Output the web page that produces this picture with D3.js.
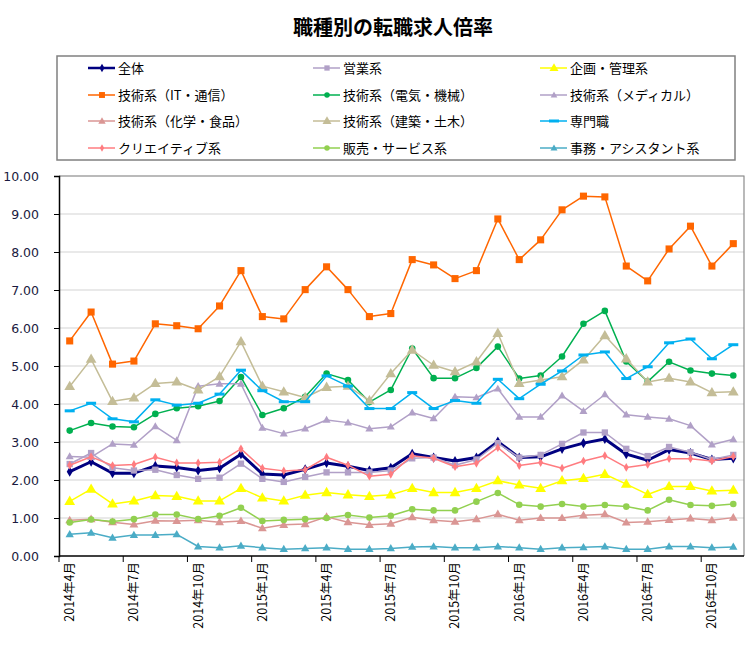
<!DOCTYPE html>
<html><head><meta charset="utf-8">
<script src="https://cdn.jsdelivr.net/npm/d3@7/dist/d3.min.js"></script>
<style>
html,body{margin:0;padding:0;background:#fff;}
svg{display:block;font-family:"DejaVu Sans",Verdana,sans-serif;}
</style></head><body>
<svg id="c" width="752" height="651"></svg>
<script>
const title = "職種別の転職求人倍率";
const months = ["2014年4月","2014年5月","2014年6月","2014年7月","2014年8月","2014年9月","2014年10月","2014年11月","2014年12月",
"2015年1月","2015年2月","2015年3月","2015年4月","2015年5月","2015年6月","2015年7月","2015年8月","2015年9月","2015年10月","2015年11月","2015年12月",
"2016年1月","2016年2月","2016年3月","2016年4月","2016年5月","2016年6月","2016年7月","2016年8月","2016年9月","2016年10月","2016年11月"];
const yTicks = [0,1,2,3,4,5,6,7,8,9,10];

const total = [2.22,2.48,2.18,2.18,2.37,2.33,2.25,2.31,2.68,2.16,2.13,2.28,2.45,2.36,2.25,2.32,2.69,2.59,2.50,2.59,3.01,2.59,2.61,2.82,2.97,3.08,2.68,2.52,2.80,2.71,2.54,2.57];
const sales = [2.42,2.71,2.32,2.25,2.27,2.13,2.03,2.06,2.43,2.03,1.95,2.08,2.20,2.20,2.20,2.25,2.57,2.59,2.39,2.54,2.97,2.59,2.66,2.95,3.25,3.25,2.82,2.63,2.87,2.73,2.54,2.66];
const planning = [1.44,1.76,1.37,1.45,1.59,1.57,1.45,1.45,1.78,1.53,1.45,1.60,1.67,1.61,1.57,1.61,1.78,1.67,1.67,1.78,1.98,1.87,1.78,1.98,2.04,2.15,1.89,1.62,1.83,1.83,1.71,1.73];
const itComm = [5.66,6.42,5.05,5.13,6.11,6.06,5.98,6.58,7.51,6.30,6.24,7.01,7.61,7.01,6.30,6.38,7.80,7.66,7.30,7.51,8.87,7.80,8.32,9.11,9.47,9.45,7.63,7.24,8.08,8.68,7.63,8.22];
const elecMech = [3.30,3.50,3.41,3.39,3.74,3.89,3.94,4.08,4.71,3.71,3.89,4.19,4.80,4.63,4.05,4.37,5.46,4.68,4.68,4.95,5.51,4.67,4.75,5.25,6.11,6.45,5.12,4.59,5.11,4.88,4.80,4.75];
const medical = [2.62,2.60,2.95,2.92,3.41,3.04,4.47,4.53,4.53,3.37,3.22,3.35,3.58,3.51,3.35,3.40,3.77,3.62,4.19,4.17,4.40,3.66,3.66,4.22,3.81,4.25,3.72,3.66,3.61,3.43,2.93,3.07];
const chemFood = [0.94,0.97,0.89,0.83,0.93,0.92,0.94,0.89,0.92,0.73,0.82,0.84,1.03,0.89,0.82,0.85,1.02,0.94,0.90,0.97,1.10,0.94,1.00,1.00,1.07,1.10,0.88,0.90,0.95,0.99,0.94,1.01];
const construction = [4.46,5.18,4.07,4.16,4.54,4.58,4.37,4.72,5.64,4.47,4.32,4.17,4.44,4.47,4.09,4.80,5.42,5.02,4.85,5.11,5.86,4.54,4.63,4.72,5.16,5.80,5.19,4.58,4.68,4.58,4.30,4.32];
const specialist = [3.82,4.02,3.61,3.53,4.11,3.97,4.02,4.26,4.89,4.35,4.06,4.06,4.74,4.47,3.88,3.88,4.30,3.88,4.09,4.02,4.65,4.14,4.52,4.87,5.29,5.37,4.67,4.98,5.61,5.71,5.19,5.56];
const creative = [2.39,2.61,2.38,2.41,2.60,2.45,2.45,2.47,2.82,2.31,2.24,2.27,2.60,2.39,2.10,2.15,2.64,2.57,2.35,2.44,2.85,2.38,2.46,2.31,2.50,2.64,2.33,2.41,2.56,2.56,2.50,2.62];
const salesService = [0.88,0.96,0.91,0.97,1.09,1.09,0.97,1.06,1.27,0.92,0.95,0.97,1.00,1.08,1.01,1.06,1.23,1.20,1.20,1.43,1.66,1.35,1.30,1.37,1.30,1.34,1.30,1.20,1.48,1.34,1.32,1.37];
const office = [0.57,0.61,0.48,0.55,0.55,0.57,0.25,0.22,0.27,0.22,0.18,0.20,0.22,0.18,0.18,0.20,0.24,0.25,0.22,0.22,0.25,0.22,0.18,0.22,0.23,0.25,0.18,0.18,0.25,0.25,0.22,0.24];

const seriesNames = ["全体","営業系","企画・管理系","技術系（IT・通信）","技術系（電気・機械）","技術系（メディカル）","技術系（化学・食品）","技術系（建築・土木）","専門職","クリエイティブ系","販売・サービス系","事務・アシスタント系"];
const seriesValues = [total,sales,planning,itComm,elecMech,medical,chemFood,construction,specialist,creative,salesService,office];
const seriesColors = ["#000080","#B1A0C7","#FFFF00","#FF6600","#00B050","#B1A0C7","#DA9694","#C4BD97","#00B0F0","#FF7C80","#92D050","#4BACC6"];
const seriesShapes = ["diamond","square","triangle","square","circle","triangle","triangle","triangle","dash","diamond","circle","triangle"];
const seriesSizes = [30,40,50,50,34,28,34,50,0,22,34,30];
const seriesWidths = [3,1.5,1.5,1.5,1.5,1.5,1.5,1.5,1.5,1.5,1.5,1.5];

const series = seriesNames.map((n,i)=>({name:n, values:seriesValues[i], color:seriesColors[i], shape:seriesShapes[i], size:seriesSizes[i], width:seriesWidths[i]}));

const svg = d3.select("#c");
const L=59, R=744, T=176, B=556;
const x = d3.scaleBand().domain(months).range([L,R]).padding(0);
const y = d3.scaleLinear().domain([0,10]).range([B,T]);
const cx = d => x(d) + x.bandwidth()/2;

// title
svg.append("text").attr("x",393).attr("y",35).attr("text-anchor","middle")
  .attr("font-family","'Noto Sans CJK JP',sans-serif").attr("font-weight","bold").attr("font-size",20).attr("fill","#000").text(title);

// legend box
svg.append("rect").attr("x",57).attr("y",56).attr("width",678).attr("height",104)
  .attr("fill","#fff").attr("stroke","#808080").attr("stroke-width",1.5);

function marker(g, s, px, py, scale){
  if(s.shape==="dash"){
    g.append("rect").attr("x",px-5).attr("y",py-1.5).attr("width",10).attr("height",3).attr("fill",s.color);
    return;
  }
  const t = {diamond:d3.symbolDiamond, square:d3.symbolSquare, triangle:d3.symbolTriangle, circle:d3.symbolCircle}[s.shape];
  const dy = s.shape==="triangle" ? 0.5 : 0;
  g.append("path").attr("d", d3.symbol().type(t).size(s.size*scale)())
    .attr("transform",`translate(${px},${py+dy})`).attr("fill",s.color).attr("stroke","none");
}

const colX = [118,343,570], rowY = [68,95,121,148];
series.forEach((s,i)=>{
  const tx = colX[i%3], ty = rowY[Math.floor(i/3)];
  const g = svg.append("g");
  g.append("line").attr("x1",tx-30).attr("x2",tx-3).attr("y1",ty).attr("y2",ty).attr("stroke",s.color).attr("stroke-width",s.width===3?2.5:1.5);
  marker(g,s,tx-16,ty,0.7);
  g.append("text").attr("x",tx).attr("y",ty+5).attr("font-family","'Noto Sans CJK JP',sans-serif").attr("font-size",13).attr("fill","#000").text(s.name);
});

// gridlines
svg.append("g").selectAll("line").data(yTicks.filter(d=>d>0)).join("line")
  .attr("x1",L).attr("x2",R).attr("y1",d=>y(d)).attr("y2",d=>y(d))
  .attr("stroke","#d4d4d4").attr("stroke-width",1.2);
// plot border top/right
svg.append("path").attr("d",`M${L},${T}H${R}V${B}`).attr("fill","none").attr("stroke","#8c8c8c").attr("stroke-width",1.2);

// y axis
const yAxis = d3.axisLeft(y).tickValues(yTicks).tickFormat(d3.format(".2f")).tickSize(5).tickPadding(15);
const yg = svg.append("g").attr("transform",`translate(${L},0)`).call(yAxis);
yg.select(".domain").attr("stroke","#000").attr("stroke-width",1.5);
yg.selectAll(".tick line").attr("stroke","#000");
yg.selectAll("text").attr("font-family","'DejaVu Sans',Verdana,sans-serif").attr("font-size",12.5).attr("fill","#1a1a40").attr("dy","0.35em");

// x axis
svg.append("line").attr("x1",L).attr("x2",R).attr("y1",B).attr("y2",B).attr("stroke","#000").attr("stroke-width",1.5);
const labelMonths = months.filter((d,i)=>i%3===0);
svg.append("g").selectAll("line").data(labelMonths).join("line")
  .attr("x1",d=>x(d)).attr("x2",d=>x(d)).attr("y1",B).attr("y2",B+6).attr("stroke","#000");
svg.append("g").selectAll("text").data(labelMonths).join("text")
  .attr("transform",d=>`translate(${cx(d)},${B+6}) rotate(-90)`)
  .attr("text-anchor","end").attr("dy","0.35em")
  .attr("font-family","'Noto Sans CJK JP',sans-serif").attr("font-size",12.5).attr("fill","#000").text(d=>d);

// series
const line = d3.line().x((d,i)=>cx(months[i])).y(d=>y(d));
series.forEach(s=>{
  const g = svg.append("g");
  g.append("path").datum(s.values).attr("d",line).attr("fill","none").attr("stroke",s.color).attr("stroke-width",s.width).attr("stroke-linejoin","round");
  s.values.forEach((v,i)=>marker(g,s,cx(months[i]),y(v),1));
});
</script></body></html>
